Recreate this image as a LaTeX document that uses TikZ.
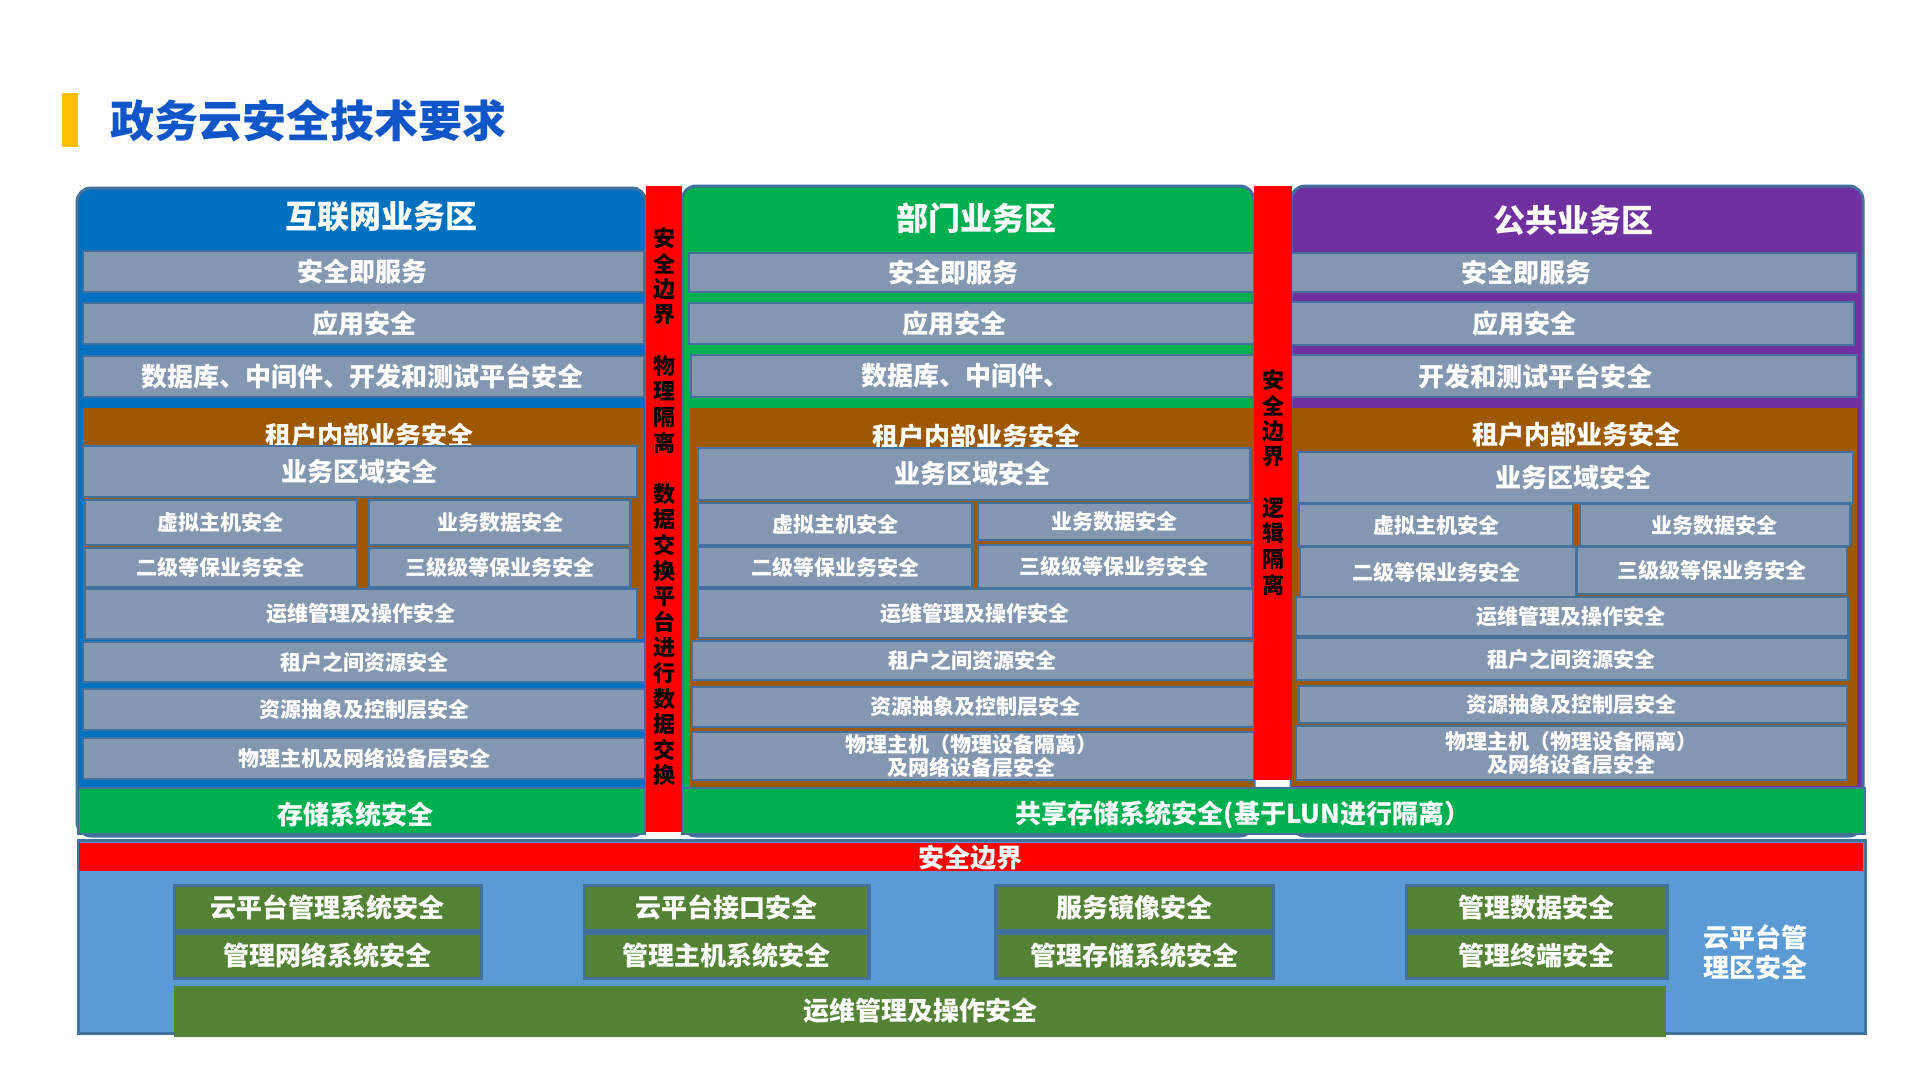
\documentclass[tikz,border=0pt]{standalone}
\usepackage{fontspec}
\setmainfont{Noto Sans CJK SC}
\definecolor{hblue}{RGB}{0,112,192}
\definecolor{hgreen}{RGB}{0,176,80}
\definecolor{hpurple}{RGB}{112,48,160}
\definecolor{gboxc}{RGB}{132,151,176}
\definecolor{edgec}{RGB}{65,113,156}
\definecolor{brownc}{RGB}{158,88,0}
\definecolor{redc}{RGB}{255,0,0}
\definecolor{lblue}{RGB}{91,155,213}
\definecolor{dgreen}{RGB}{84,130,53}
\definecolor{titlec}{RGB}{16,86,200}
\definecolor{yellowc}{RGB}{255,192,0}
\tikzset{
  panel/.style={draw=edgec, line width=3pt, rounded corners=14pt},
  gbox/.style={fill=gboxc, draw=edgec, line width=2.5pt},
  gboxtxt/.style={text=white, font=\bfseries\fontsize{26}{30}\selectfont, inner sep=0pt, align=center},
  sbox/.style={fill=gboxc, draw=edgec, line width=2.5pt},
  sboxtxt/.style={text=white, font=\bfseries\fontsize{21}{23}\selectfont, inner sep=0pt, align=center},
  mbox/.style={fill=dgreen, draw=edgec, line width=3pt},
  mboxtxt/.style={text=white, font=\bfseries\fontsize{26}{30}\selectfont, inner sep=0pt, align=center},
  headtxt/.style={text=white, font=\bfseries\fontsize{32}{36}\selectfont, inner sep=0pt},
  bigtxt/.style={text=white, font=\bfseries\fontsize{26}{30}\selectfont, inner sep=0pt, align=center},
  vtxt/.style={text=black, font=\bfseries\fontsize{22}{24}\selectfont, inner sep=0pt},
  brownbox/.style={fill=brownc, draw=none},
  storebox/.style={fill=hgreen, draw=edgec, line width=2pt},
}
% #1 style, #2 name, #3 x1, #4 y1, #5 x2, #6 y2, #7 text x, #8 text
\newcommand\mybox[8]{%
  \path[#1] (#3,#4) rectangle (#5,#6);
  \node[#1txt] (#2) at (#7,{(#4+#6)/2}) {#8};}
\begin{document}
\begin{tikzpicture}[x=1pt,y=-1pt]
\useasboundingbox[fill=white] (0,0) rectangle (1920,1080);
% title
\fill[yellowc] (62,93) rectangle (78,147);
\node[anchor=west, inner sep=0pt, text=titlec, font=\bfseries\fontsize{44}{48}\selectfont] (title) at (110,121) {政务云安全技术要求};

% ---------- panels ----------
\path[panel, fill=hblue] (77,188) rectangle (646,836);
\path[panel, fill=hgreen] (682,186) rectangle (1254,836);
\path[panel, fill=hpurple] (1291,186) rectangle (1863,836);
\node[headtxt] (hL) at (381,217) {互联网业务区};
\node[headtxt] (hM) at (976,218) {部门业务区};
\node[headtxt] (hR) at (1573,220) {公共业务区};

% ---------- left panel ----------
\mybox{gbox}{L1}{83}{251}{644}{292}{362}{安全即服务}
\mybox{gbox}{L2}{83}{303}{644}{344}{364}{应用安全}
\mybox{gbox}{L3}{83}{356}{644}{397}{362}{数据库、中间件、开发和测试平台安全}
\path[brownbox] (83,408) rectangle (644,639);
\node[bigtxt] (L4) at (369,436) {租户内部业务安全};
\mybox{gbox}{L5}{83}{446}{637}{497}{359}{业务区域安全}
\mybox{sbox}{L6}{85}{500}{357}{545}{220}{虚拟主机安全}
\mybox{sbox}{L7}{369}{500}{630}{545}{500}{业务数据安全}
\mybox{sbox}{L8}{85}{548}{357}{587}{220}{二级等保业务安全}
\mybox{sbox}{L9}{369}{548}{630}{587}{500}{三级级等保业务安全}
\mybox{sbox}{L10}{85}{589}{637}{639}{361}{运维管理及操作安全}
\mybox{sbox}{L11}{83}{642}{645}{682}{364}{租户之间资源安全}
\mybox{sbox}{L12}{83}{689}{645}{730}{364}{资源抽象及控制层安全}
\mybox{sbox}{L13}{83}{738}{645}{779}{364}{物理主机及网络设备层安全}
\path[storebox] (78,788) rectangle (645,834);
\node[bigtxt] (Ls) at (355,815) {存储系统安全};

% ---------- middle panel ----------
\mybox{gbox}{M1}{689}{253}{1254}{292}{953}{安全即服务}
\mybox{gbox}{M2}{689}{303}{1254}{344}{954}{应用安全}
\mybox{gbox}{M3}{691}{355}{1254}{397}{965}{数据库、中间件、}
\path[brownbox] (690,408) rectangle (1254,787);
\node[bigtxt] (M4) at (976,437) {租户内部业务安全};
\mybox{gbox}{M5}{698}{448}{1250}{500}{972}{业务区域安全}
\mybox{sbox}{M6}{698}{503}{972}{545}{835}{虚拟主机安全}
\mybox{sbox}{M7}{978}{503}{1252}{540}{1114}{业务数据安全}
\mybox{sbox}{M8}{698}{547}{972}{587}{835}{二级等保业务安全}
\mybox{sbox}{M9}{978}{545}{1252}{588}{1114}{三级级等保业务安全}
\mybox{sbox}{M10}{698}{589}{1253}{638}{975}{运维管理及操作安全}
\mybox{sbox}{M11}{692}{641}{1254}{680}{972}{租户之间资源安全}
\mybox{sbox}{M12}{692}{687}{1254}{727}{975}{资源抽象及控制层安全}
\mybox{sbox}{M13}{692}{732}{1254}{780}{971}{物理主机（物理设备隔离）\\及网络设备层安全}

% ---------- right panel ----------
\mybox{gbox}{R1}{1291}{253}{1857}{292}{1526}{安全即服务}
\mybox{gbox}{R2}{1291}{302}{1854}{345}{1524}{应用安全}
\mybox{gbox}{R3}{1291}{355}{1857}{397}{1535}{开发和测试平台安全}
\path[brownbox] (1291,408) rectangle (1857,786);
\node[bigtxt] (R4) at (1576,435) {租户内部业务安全};
\mybox{gbox}{R5}{1298}{452}{1853}{503}{1573}{业务区域安全}
\mybox{sbox}{R6}{1299}{504}{1573}{546}{1436}{虚拟主机安全}
\mybox{sbox}{R7}{1580}{504}{1850}{546}{1714}{业务数据安全}
\mybox{sbox}{R8}{1300}{547}{1576}{597}{1436}{二级等保业务安全}
\mybox{sbox}{R9}{1577}{547}{1847}{594}{1712}{三级级等保业务安全}
\mybox{sbox}{R10}{1296}{597}{1848}{636}{1571}{运维管理及操作安全}
\mybox{sbox}{R11}{1296}{638}{1848}{680}{1571}{租户之间资源安全}
\mybox{sbox}{R12}{1299}{686}{1847}{723}{1571}{资源抽象及控制层安全}
\mybox{sbox}{R13}{1296}{726}{1847}{780}{1571}{物理主机（物理设备隔离）\\及网络设备层安全}

% shared storage
\path[storebox] (682,788) rectangle (1865,834);
\node[bigtxt] (Ms) at (1243,815) {共享存储系统安全(基于LUN进行隔离）};

% ---------- red vertical bars ----------
\fill[redc] (646,186) rectangle (682,832);
\foreach \c [count=\i from 0] in {安,全,边,界,{},物,理,隔,离,{},数,据,交,换,平,台,进,行,数,据,交,换}
  \node[vtxt] (va\i) at (664,{238+25.6*\i}) {\c};
\fill[redc] (1254,186) rectangle (1292,780);
\foreach \c [count=\i from 0] in {安,全,边,界,{},逻,辑,隔,离}
  \node[vtxt] (vb\i) at (1273,{380+25.6*\i}) {\c};

% ---------- bottom management area ----------
\path[fill=lblue, draw=edgec, line width=3pt] (78,840) rectangle (1865,1033);
\fill[redc] (79,843) rectangle (1863,871);
\node[bigtxt] (bnd) at (970,858) {安全边界};
\mybox{mbox}{G1}{174}{885}{481}{930}{327.5}{云平台管理系统安全}
\mybox{mbox}{G2}{584}{885}{869}{930}{726.5}{云平台接口安全}
\mybox{mbox}{G3}{995}{885}{1273}{930}{1134}{服务镜像安全}
\mybox{mbox}{G4}{1406}{885}{1667}{930}{1536.5}{管理数据安全}
\mybox{mbox}{G5}{174}{933}{481}{978}{327.5}{管理网络系统安全}
\mybox{mbox}{G6}{584}{933}{869}{978}{726.5}{管理主机系统安全}
\mybox{mbox}{G7}{995}{933}{1273}{978}{1134}{管理存储系统安全}
\mybox{mbox}{G8}{1406}{933}{1667}{978}{1536.5}{管理终端安全}
\fill[dgreen] (174,986) rectangle (1666,1037);
\node[bigtxt] (G9) at (920,1011) {运维管理及操作安全};
\node[bigtxt, font=\bfseries\fontsize{26}{30}\selectfont] (mgmt) at (1755,952) {云平台管\\理区安全};
\end{tikzpicture}
\end{document}
